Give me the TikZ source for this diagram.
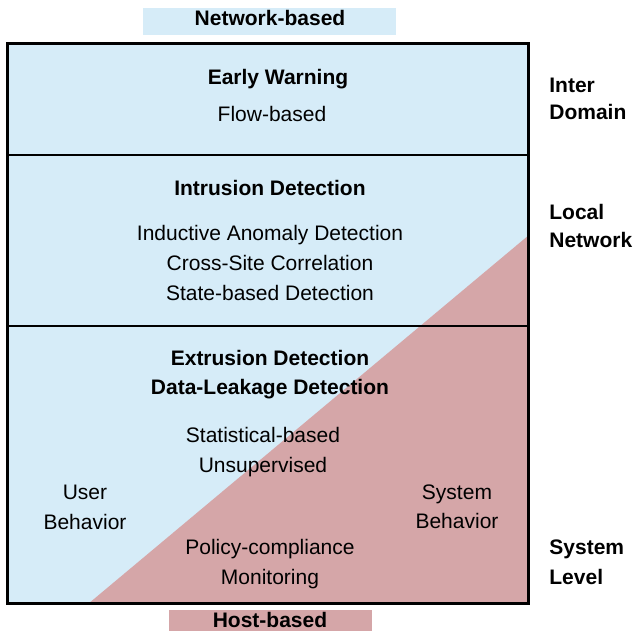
\documentclass[tikz,border=0pt]{standalone}
\usepackage{fontspec}
\setmainfont{Liberation Sans}
\usepackage{tikz}
\definecolor{netblue}{RGB}{214,236,248}
\definecolor{hostpink}{RGB}{213,166,168}

\begin{document}
\begin{tikzpicture}[x=0.5pt,y=-0.5pt,
    every node/.style={font=\fontsize{10.5}{12.6}\selectfont,text height=7.6pt,text depth=2pt,inner sep=0pt,yshift=-1pt},
    head/.style={font=\fontsize{10.5}{12.6}\selectfont\bfseries},
    level/.style={font=\fontsize{10.5}{12.6}\selectfont\bfseries,anchor=west}]
    \useasboundingbox (0,0) rectangle (634,631);
    % Fill the two regions
    \fill[netblue] (8,44) rectangle (529,604);
    \fill[hostpink] (88,604) -- (529,235) -- (529,604) -- cycle;
    % Tags above and below the box
    \fill[netblue] (143,8) rectangle (396,35);
    \fill[hostpink] (169,610) rectangle (372,631);
    \node[head] (net) at (270,18) {Network-based};
    \node[head] (host) at (270,620) {Host-based};
    % Draw the rows and the frame
    \draw[line width=1pt] (8,155) -- (529,155);
    \draw[line width=1pt] (8,326) -- (529,326);
    \draw[line width=1.5pt] (8,44) rectangle (529,604);
    % Upper row
    \node[head] (early) at (278,77) {Early Warning};
    \node (flow) at (272,114) {Flow-based};
    % Middle row
    \node[head] (intr) at (270,188) {Intrusion Detection};
    \foreach \txt/\y [count=\i] in {Inductive Anomaly Detection/233, Cross-Site Correlation/263, State-based Detection/293}{
      \node (intr\i) at (270,\y) {\txt};
    }
    % Lower row
    \node[head] (extr) at (270,358) {Extrusion Detection};
    \node[head] (leak) at (270,387) {Data-Leakage Detection};
    \node (stat) at (263,435) {Statistical-based};
    \node (unsup) at (263,465) {Unsupervised};
    \node (user) at (85,492) {User};
    \node (userb) at (85,522) {Behavior};
    \node (sys) at (457,492) {System};
    \node (sysb) at (457,521) {Behavior};
    \node (pol) at (270,547) {Policy-compliance};
    \node (mon) at (270,577) {Monitoring};
    % Levels on the right
    \foreach \txt/\y [count=\i] in {Inter/85, Domain/112, Local/212, Network/240, System/547, Level/577}{
      \node[level] (lev\i) at (549,\y) {\txt};
    }
\end{tikzpicture}
\end{document}
